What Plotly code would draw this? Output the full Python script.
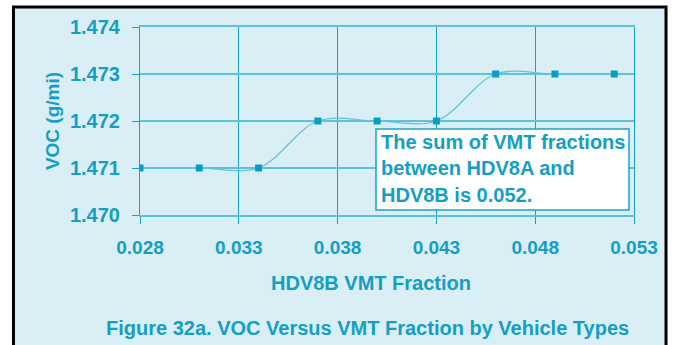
import plotly.graph_objects as go

# HDV8B VMT fraction vs VOC emission rate
vmt_fraction = [0.028, 0.031, 0.034, 0.037, 0.040, 0.043, 0.046, 0.049, 0.052]
voc_gpm = [1.471, 1.471, 1.471, 1.472, 1.472, 1.472, 1.473, 1.473, 1.473]

x_ticks = [0.028, 0.033, 0.038, 0.043, 0.048, 0.053]
y_ticks = [1.470, 1.471, 1.472, 1.473, 1.474]

x_title = "HDV8B VMT Fraction"
y_title = "VOC (g/mi)"
note_lines = ["The sum of VMT fractions", "between HDV8A and", "HDV8B is 0.052."]
caption = "Figure 32a. VOC Versus VMT Fraction by Vehicle Types"

TEXT = "#149ec6"
BG = "#d9eff5"
VGRID = "#17a0c4"
HGRID = "#5fc2da"
FONT = "Liberation Sans, Arial, sans-serif"


def bold(size):
    return dict(family=FONT, size=size, color=TEXT, weight="bold")


fig = go.Figure()

fig.add_trace(go.Scatter(
    x=vmt_fraction, y=voc_gpm,
    mode="lines+markers",
    line=dict(shape="spline", smoothing=1.0, color="#62c4dc", width=1.3),
    marker=dict(symbol="square", size=7, color="#0a9dc3"),
    showlegend=False,
))

# Outer black frame around the chart panel
fig.add_shape(type="rect", xref="paper", yref="paper",
              x0=-0.2561, x1=1.0648, y0=-0.70, y1=1.1064,
              line=dict(color="black", width=3), fillcolor=BG, layer="below")

# Note box
fig.add_shape(type="rect", xref="paper", yref="paper",
              x0=0.4777, x1=0.9899, y0=0.0266, y1=0.4574,
              line=dict(color="#1ba3c8", width=1.5), fillcolor="white", layer="above")

for line, yp in zip(note_lines, [0.390, 0.252, 0.108]):
    fig.add_annotation(text=line, xref="paper", yref="paper", x=0.4838, y=yp,
                       xanchor="left", yanchor="middle", showarrow=False,
                       font=bold(20))

# Axis title below the tick labels
fig.add_annotation(text=x_title, xref="paper", yref="paper", x=0.4676, y=-0.362,
                   xanchor="center", yanchor="middle", showarrow=False,
                   font=bold(20))

fig.add_annotation(text=caption, xref="paper", yref="paper", x=0.4615, y=-0.60,
                   xanchor="center", yanchor="middle", showarrow=False,
                   font=bold(20))

fig.update_xaxes(
    range=[0.028, 0.053], tickvals=x_ticks, tickformat=".3f",
    showgrid=True, gridcolor=VGRID, gridwidth=1,
    ticks="outside", ticklen=7, tickcolor=VGRID,
    showline=True, linecolor=HGRID, linewidth=2, mirror=True,
    zeroline=False,
    ticklabelstandoff=7,
    tickfont=bold(19),
)
fig.update_yaxes(
    range=[1.470, 1.474], tickvals=y_ticks, tickformat=".3f",
    showgrid=True, gridcolor=HGRID, gridwidth=2,
    ticks="outside", ticklen=7, tickcolor=VGRID,
    showline=True, linecolor=VGRID, linewidth=1, mirror=True,
    zeroline=False,
    ticklabelstandoff=8,
    tickfont=bold(20),
    title=dict(text=y_title, standoff=5, font=bold(19)),
)

fig.update_layout(
    width=675, height=345,
    margin=dict(l=140, r=41, t=27, b=130),
    paper_bgcolor="white", plot_bgcolor=BG,
)

fig.write_html("out.html")
